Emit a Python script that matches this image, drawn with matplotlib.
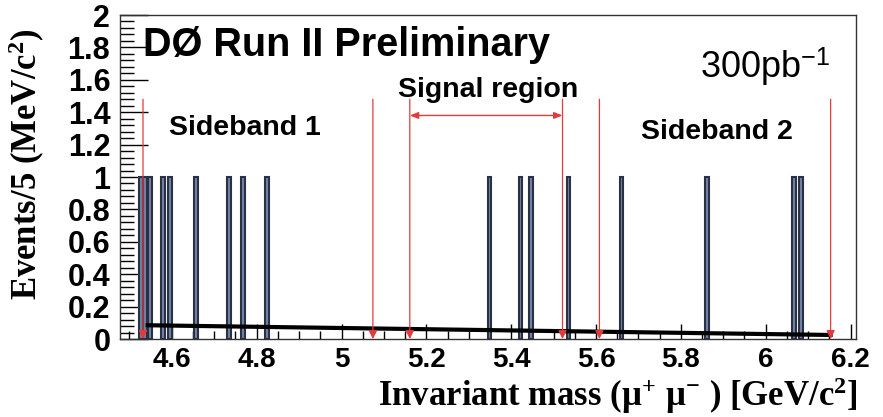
import matplotlib.pyplot as plt
from matplotlib.ticker import MultipleLocator

plt.rcParams['mathtext.fontset'] = 'custom'
plt.rcParams['mathtext.rm'] = 'Liberation Serif:bold'
plt.rcParams['mathtext.bf'] = 'Liberation Serif:bold'
plt.rcParams['mathtext.it'] = 'Liberation Serif:bold'
plt.rcParams['mathtext.sf'] = 'Liberation Sans'

# candidate events (GeV/c^2), one per 5 MeV bin
event_mass = [4.527, 4.536, 4.548, 4.579, 4.595, 4.657, 4.734, 4.767, 4.824,
              5.349, 5.422, 5.446, 5.535, 5.660, 5.861, 6.066, 6.084]
event_count = [1] * len(event_mass)

# sideband / signal window edges
cut_edges = [4.532, 5.074, 5.161, 5.521, 5.608, 6.153]
signal_lo, signal_hi = 5.161, 5.521

# background fit line
bkg_mass = [4.543, 6.153]
bkg_level = [0.085, 0.025]

red = '#e23b3b'

fig = plt.figure(figsize=(8.83, 4.17), dpi=100)
ax = fig.add_axes([0.136, 0.187, 0.833, 0.777])

ax.bar(event_mass, event_count, width=0.009, color='#6f84ad',
       edgecolor='#2b3140', linewidth=1.5, zorder=2)
ax.plot(bkg_mass, bkg_level, color='black', lw=3, zorder=3)

for x in cut_edges:
    ax.annotate('', xy=(x, 0.0), xytext=(x, 1.48),
                arrowprops=dict(arrowstyle='-|>,head_length=0.5,head_width=0.25',
                                color=red, lw=0.9, shrinkA=0, shrinkB=0),
                zorder=4)

ax.annotate('', xy=(signal_lo, 1.38), xytext=(signal_hi, 1.38),
            arrowprops=dict(arrowstyle='<|-|>,head_length=0.5,head_width=0.2',
                            color=red, lw=1.0, shrinkA=0, shrinkB=0))

ax.set_xlim(4.478, 6.212)
ax.set_ylim(0, 2)
ax.xaxis.set_major_locator(MultipleLocator(0.2))
ax.xaxis.set_minor_locator(MultipleLocator(0.05))
ax.yaxis.set_major_locator(MultipleLocator(0.2))
ax.yaxis.set_minor_locator(MultipleLocator(0.04))
ax.xaxis.set_major_formatter(plt.FuncFormatter(lambda v, p: f'{v:g}'))
ax.yaxis.set_major_formatter(plt.FuncFormatter(lambda v, p: f'{v:g}'))

ax.tick_params(axis='y', which='major', direction='in', length=20, width=1, pad=7)
ax.tick_params(axis='y', which='minor', direction='in', length=10, width=1)
ax.tick_params(axis='x', which='major', direction='in', length=11, width=1, pad=6)
ax.tick_params(axis='x', which='minor', direction='in', length=6, width=1)
for lab in ax.get_yticklabels():
    lab.set_family('Liberation Sans')
    lab.set_weight('bold')
    lab.set_fontsize(22)
for lab in ax.get_xticklabels():
    lab.set_family('Liberation Sans')
    lab.set_weight('bold')
    lab.set_fontsize(20)
for s in ax.spines.values():
    s.set_linewidth(1.0)
    s.set_color('#333333')

ax.set_ylabel(r'Events/5 (MeV/c$^{2}$)', family='Liberation Serif',
              weight='bold', fontsize=25)
ax.yaxis.set_label_coords(-0.126, 0.54)
ax.yaxis.label.set_va('center')
ax.set_xlabel(r'Invariant mass ($\mathrm{\mu^{+}\ \mu^{-}}$ ) [GeV/c$^{2}$]',
              family='Liberation Serif', weight='bold', fontsize=25)
ax.xaxis.set_label_coords(1.003, -0.175)
ax.xaxis.label.set_ha('right')
ax.xaxis.label.set_va('center')

ax.text(0.031, 0.907, 'DØ Run II Preliminary', transform=ax.transAxes,
        family='Liberation Sans', weight='bold', fontsize=28.5, va='center')
ax.text(0.965, 0.84, r'300pb$^{\mathsf{-1}}$', transform=ax.transAxes,
        family='Liberation Sans', fontsize=26, ha='right', va='center')
ax.text(0.378, 0.77, 'Signal region', transform=ax.transAxes,
        family='Liberation Sans', weight='bold', fontsize=20.5, va='center')
ax.text(0.066, 0.65, 'Sideband 1', transform=ax.transAxes,
        family='Liberation Sans', weight='bold', fontsize=20.5, va='center')
ax.text(0.708, 0.64, 'Sideband 2', transform=ax.transAxes,
        family='Liberation Sans', weight='bold', fontsize=20.5, va='center')

fig.savefig('out.png', dpi=100)
